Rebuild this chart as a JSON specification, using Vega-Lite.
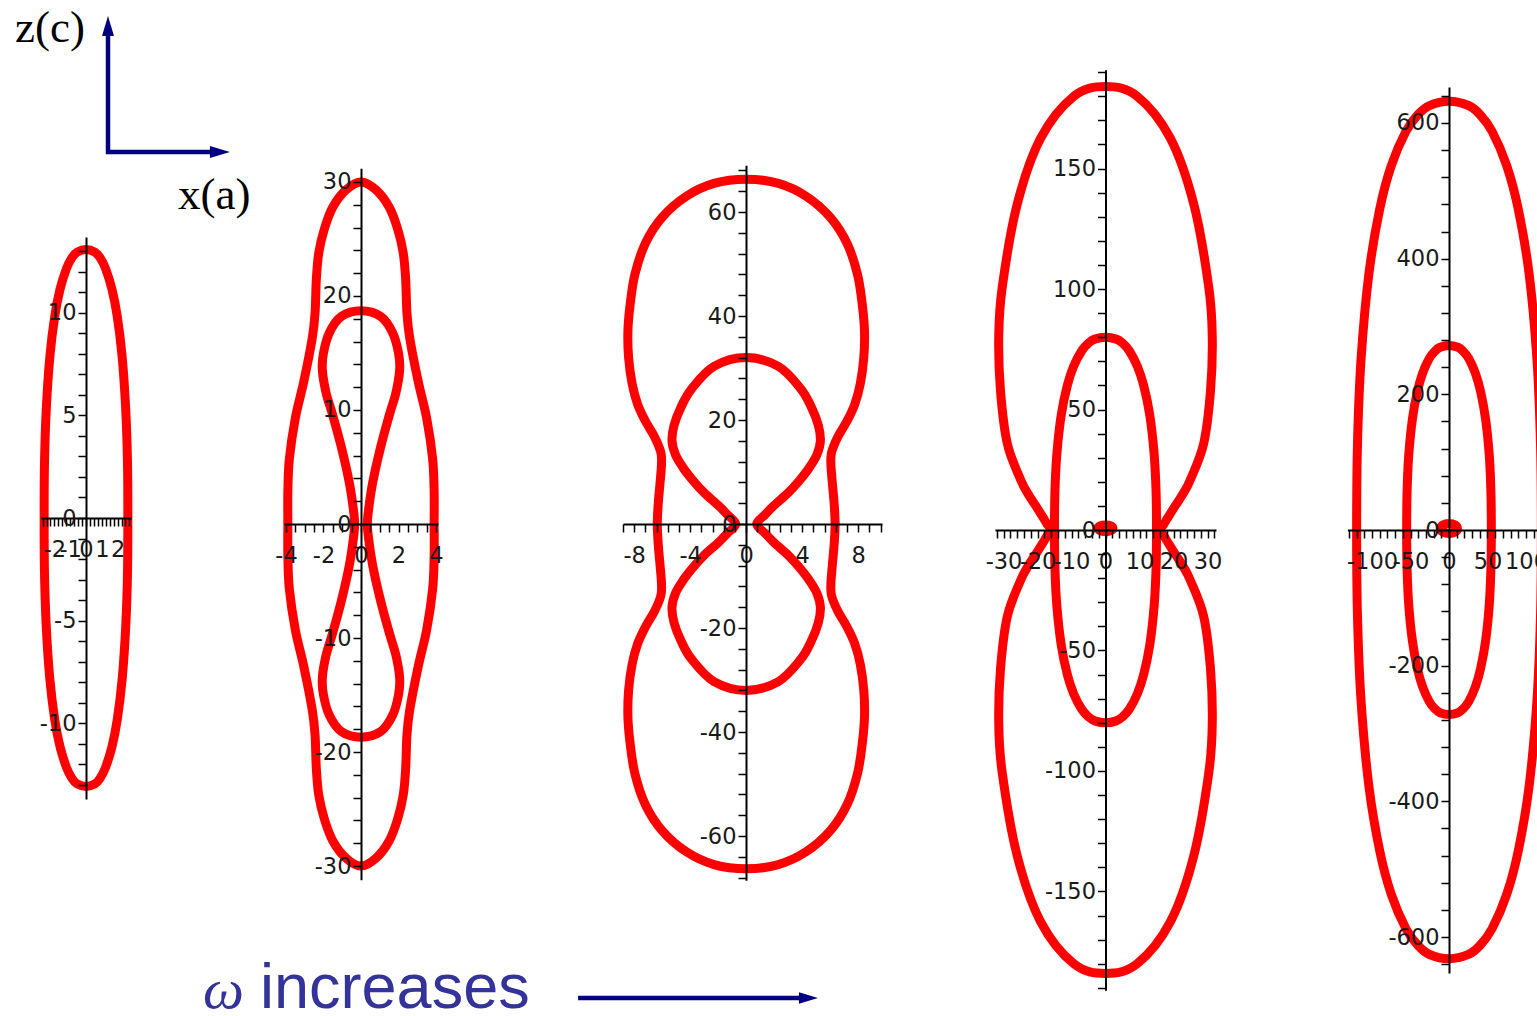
{
  "$schema": "https://vega.github.io/schema/vega-lite/v6.json",
  "width": 1537,
  "height": 1016,
  "autosize": {"type": "none"},
  "padding": 0,
  "background": "#ffffff",
  "config": {
    "view": {"stroke": null},
    "axis": {
      "grid": false,
      "domainColor": "#000000",
      "domainWidth": 2,
      "tickColor": "#000000",
      "tickWidth": 1.5,
      "tickSize": 8,
      "labelFont": "DejaVu Sans",
      "labelFontSize": 22.5,
      "labelColor": "#1a1a1a",
      "labelOverlap": false,
      "labelFlush": false,
      "labelBound": false
    },
    "axisX": {"labelPadding": 12},
    "axisY": {"labelPadding": 2}
  },
  "resolve": {"scale": {"x": "independent", "y": "independent", "shape": "independent", "size": "independent"}},
  "layer": [
    {
      "data": {"values": [
        {"c":"a","x":2.65,"z":0},{"c":"a","x":2.63,"z":2.62},{"c":"a","x":2.52,"z":5.24},{"c":"a","x":2.29,"z":7.86},{"c":"a","x":1.98,"z":9.83},{"c":"a","x":1.65,"z":11.14},{"c":"a","x":1.23,"z":12.18},{"c":"a","x":0.88,"z":12.71},{"c":"a","x":0.56,"z":12.97},{"c":"a","x":0,"z":13.1},
        {"c":"a","x":-0.56,"z":12.97},{"c":"a","x":-0.88,"z":12.71},{"c":"a","x":-1.23,"z":12.18},{"c":"a","x":-1.65,"z":11.14},{"c":"a","x":-1.98,"z":9.83},{"c":"a","x":-2.29,"z":7.86},{"c":"a","x":-2.52,"z":5.24},{"c":"a","x":-2.63,"z":2.62},{"c":"a","x":-2.65,"z":0},
        {"c":"a","x":-2.63,"z":-2.62},{"c":"a","x":-2.52,"z":-5.24},{"c":"a","x":-2.29,"z":-7.86},{"c":"a","x":-1.98,"z":-9.83},{"c":"a","x":-1.65,"z":-11.14},{"c":"a","x":-1.23,"z":-12.18},{"c":"a","x":-0.88,"z":-12.71},{"c":"a","x":-0.56,"z":-12.97},{"c":"a","x":0,"z":-13.1},
        {"c":"a","x":0.56,"z":-12.97},{"c":"a","x":0.88,"z":-12.71},{"c":"a","x":1.23,"z":-12.18},{"c":"a","x":1.65,"z":-11.14},{"c":"a","x":1.98,"z":-9.83},{"c":"a","x":2.29,"z":-7.86},{"c":"a","x":2.52,"z":-5.24},{"c":"a","x":2.63,"z":-2.62}
      ]},
      "mark": {"type": "line", "interpolate": "cardinal-closed", "stroke": "#ff0000", "strokeWidth": 9, "strokeJoin": "round"},
      "encoding": {
        "x": {"field": "x", "type": "quantitative",
          "scale": {"domain": [-2.85, 2.85], "range": [41, 131], "zero": false, "nice": false},
          "axis": {"orient": "bottom", "offset": -498, "title": null, "zindex": 1,
            "values": [-2.75,-2.5,-2.25,-2,-1.75,-1.5,-1.25,-1,-0.75,-0.5,-0.25,0,0.25,0.5,0.75,1,1.25,1.5,1.75,2,2.25,2.5,2.75],
            "labelExpr": "datum.value % 1 === 0 ? '' + datum.value : ''"}},
        "y": {"field": "z", "type": "quantitative",
          "scale": {"domain": [-13.7, 13.7], "range": [798.9, 237.1], "zero": false, "nice": false},
          "axis": {"orient": "left", "offset": -86, "title": null, "zindex": 1,
            "values": [-13,-12,-11,-10,-9,-8,-7,-6,-5,-4,-3,-2,-1,0,1,2,3,4,5,6,7,8,9,10,11,12,13],
            "labelExpr": "datum.value % 5 === 0 ? '' + datum.value : ''"}},
        "detail": {"field": "c"},
        "order": {"value": null}
      }
    },
    {
      "data": {"values": [
        {"c":"o","x":3.9,"z":0},{"c":"o","x":3.9,"z":2.8},{"c":"o","x":3.82,"z":5.7},{"c":"o","x":3.5,"z":9.3},{"c":"o","x":3.05,"z":12.5},{"c":"o","x":2.6,"z":16.3},{"c":"o","x":2.45,"z":18.5},{"c":"o","x":2.38,"z":21.5},{"c":"o","x":2.25,"z":23.8},{"c":"o","x":1.95,"z":25.9},{"c":"o","x":1.5,"z":27.8},{"c":"o","x":0.8,"z":29.3},{"c":"o","x":0,"z":30},
        {"c":"o","x":-0.8,"z":29.3},{"c":"o","x":-1.5,"z":27.8},{"c":"o","x":-1.95,"z":25.9},{"c":"o","x":-2.25,"z":23.8},{"c":"o","x":-2.38,"z":21.5},{"c":"o","x":-2.45,"z":18.5},{"c":"o","x":-2.6,"z":16.3},{"c":"o","x":-3.05,"z":12.5},{"c":"o","x":-3.5,"z":9.3},{"c":"o","x":-3.82,"z":5.7},{"c":"o","x":-3.9,"z":2.8},{"c":"o","x":-3.9,"z":0},
        {"c":"o","x":-3.9,"z":-2.8},{"c":"o","x":-3.82,"z":-5.7},{"c":"o","x":-3.5,"z":-9.3},{"c":"o","x":-3.05,"z":-12.5},{"c":"o","x":-2.6,"z":-16.3},{"c":"o","x":-2.45,"z":-18.5},{"c":"o","x":-2.38,"z":-21.5},{"c":"o","x":-2.25,"z":-23.8},{"c":"o","x":-1.95,"z":-25.9},{"c":"o","x":-1.5,"z":-27.8},{"c":"o","x":-0.8,"z":-29.3},{"c":"o","x":0,"z":-30},
        {"c":"o","x":0.8,"z":-29.3},{"c":"o","x":1.5,"z":-27.8},{"c":"o","x":1.95,"z":-25.9},{"c":"o","x":2.25,"z":-23.8},{"c":"o","x":2.38,"z":-21.5},{"c":"o","x":2.45,"z":-18.5},{"c":"o","x":2.6,"z":-16.3},{"c":"o","x":3.05,"z":-12.5},{"c":"o","x":3.5,"z":-9.3},{"c":"o","x":3.82,"z":-5.7},{"c":"o","x":3.9,"z":-2.8},
        {"c":"i","x":0.34,"z":0},{"c":"i","x":0.4,"z":1.2},{"c":"i","x":0.62,"z":3.6},{"c":"i","x":1.04,"z":6.7},{"c":"i","x":1.5,"z":9.5},{"c":"i","x":1.86,"z":11.5},{"c":"i","x":2.06,"z":13.5},{"c":"i","x":2,"z":15},{"c":"i","x":1.68,"z":16.8},{"c":"i","x":1.05,"z":18.2},{"c":"i","x":0,"z":18.7},
        {"c":"i","x":-1.05,"z":18.2},{"c":"i","x":-1.68,"z":16.8},{"c":"i","x":-2,"z":15},{"c":"i","x":-2.06,"z":13.5},{"c":"i","x":-1.86,"z":11.5},{"c":"i","x":-1.5,"z":9.5},{"c":"i","x":-1.04,"z":6.7},{"c":"i","x":-0.62,"z":3.6},{"c":"i","x":-0.4,"z":1.2},{"c":"i","x":-0.34,"z":0},
        {"c":"i","x":-0.4,"z":-1.2},{"c":"i","x":-0.62,"z":-3.6},{"c":"i","x":-1.04,"z":-6.7},{"c":"i","x":-1.5,"z":-9.5},{"c":"i","x":-1.86,"z":-11.5},{"c":"i","x":-2.06,"z":-13.5},{"c":"i","x":-2,"z":-15},{"c":"i","x":-1.68,"z":-16.8},{"c":"i","x":-1.05,"z":-18.2},{"c":"i","x":0,"z":-18.7},
        {"c":"i","x":1.05,"z":-18.2},{"c":"i","x":1.68,"z":-16.8},{"c":"i","x":2,"z":-15},{"c":"i","x":2.06,"z":-13.5},{"c":"i","x":1.86,"z":-11.5},{"c":"i","x":1.5,"z":-9.5},{"c":"i","x":1.04,"z":-6.7},{"c":"i","x":0.62,"z":-3.6},{"c":"i","x":0.4,"z":-1.2}
      ]},
      "mark": {"type": "line", "interpolate": "cardinal-closed", "stroke": "#ff0000", "strokeWidth": 9, "strokeJoin": "round"},
      "encoding": {
        "x": {"field": "x", "type": "quantitative",
          "scale": {"domain": [-4.1, 4.1], "range": [284.1, 437.9], "zero": false, "nice": false},
          "axis": {"orient": "bottom", "offset": -492, "title": null, "zindex": 1,
            "values": [-4,-3.5,-3,-2.5,-2,-1.5,-1,-0.5,0,0.5,1,1.5,2,2.5,3,3.5,4],
            "labelExpr": "datum.value % 2 === 0 ? '' + datum.value : ''"}},
        "y": {"field": "z", "type": "quantitative",
          "scale": {"domain": [-31.2, 31.2], "range": [879.7, 168.3], "zero": false, "nice": false},
          "axis": {"orient": "left", "offset": -361, "title": null, "zindex": 1,
            "values": [-30,-28,-26,-24,-22,-20,-18,-16,-14,-12,-10,-8,-6,-4,-2,0,2,4,6,8,10,12,14,16,18,20,22,24,26,28,30],
            "labelExpr": "datum.value % 10 === 0 ? '' + datum.value : ''"}},
        "detail": {"field": "c"},
        "order": {"value": null}
      }
    },
    {
      "data": {"values": [
        {"c":"o","x":6.35,"z":0},{"c":"o","x":6.28,"z":4},{"c":"o","x":6.15,"z":8},{"c":"o","x":6.05,"z":11.5},{"c":"o","x":6.1,"z":13.8},{"c":"o","x":6.55,"z":16.8},{"c":"o","x":7.2,"z":19.8},{"c":"o","x":7.75,"z":23},{"c":"o","x":8.15,"z":27},{"c":"o","x":8.4,"z":32},{"c":"o","x":8.45,"z":37},{"c":"o","x":8.3,"z":42},{"c":"o","x":7.95,"z":48},{"c":"o","x":7.2,"z":54},{"c":"o","x":6,"z":59},{"c":"o","x":4.3,"z":63},{"c":"o","x":2.3,"z":65.5},{"c":"o","x":0,"z":66.3},
        {"c":"o","x":-2.3,"z":65.5},{"c":"o","x":-4.3,"z":63},{"c":"o","x":-6,"z":59},{"c":"o","x":-7.2,"z":54},{"c":"o","x":-7.95,"z":48},{"c":"o","x":-8.3,"z":42},{"c":"o","x":-8.45,"z":37},{"c":"o","x":-8.4,"z":32},{"c":"o","x":-8.15,"z":27},{"c":"o","x":-7.75,"z":23},{"c":"o","x":-7.2,"z":19.8},{"c":"o","x":-6.55,"z":16.8},{"c":"o","x":-6.1,"z":13.8},{"c":"o","x":-6.05,"z":11.5},{"c":"o","x":-6.15,"z":8},{"c":"o","x":-6.28,"z":4},{"c":"o","x":-6.35,"z":0},
        {"c":"o","x":-6.28,"z":-4},{"c":"o","x":-6.15,"z":-8},{"c":"o","x":-6.05,"z":-11.5},{"c":"o","x":-6.1,"z":-13.8},{"c":"o","x":-6.55,"z":-16.8},{"c":"o","x":-7.2,"z":-19.8},{"c":"o","x":-7.75,"z":-23},{"c":"o","x":-8.15,"z":-27},{"c":"o","x":-8.4,"z":-32},{"c":"o","x":-8.45,"z":-37},{"c":"o","x":-8.3,"z":-42},{"c":"o","x":-7.95,"z":-48},{"c":"o","x":-7.2,"z":-54},{"c":"o","x":-6,"z":-59},{"c":"o","x":-4.3,"z":-63},{"c":"o","x":-2.3,"z":-65.5},{"c":"o","x":0,"z":-66.3},
        {"c":"o","x":2.3,"z":-65.5},{"c":"o","x":4.3,"z":-63},{"c":"o","x":6,"z":-59},{"c":"o","x":7.2,"z":-54},{"c":"o","x":7.95,"z":-48},{"c":"o","x":8.3,"z":-42},{"c":"o","x":8.45,"z":-37},{"c":"o","x":8.4,"z":-32},{"c":"o","x":8.15,"z":-27},{"c":"o","x":7.75,"z":-23},{"c":"o","x":7.2,"z":-19.8},{"c":"o","x":6.55,"z":-16.8},{"c":"o","x":6.1,"z":-13.8},{"c":"o","x":6.05,"z":-11.5},{"c":"o","x":6.15,"z":-8},{"c":"o","x":6.28,"z":-4},
        {"c":"i","x":0.75,"z":0},{"c":"i","x":1.35,"z":1.8},{"c":"i","x":2,"z":3.6},{"c":"i","x":3,"z":6},{"c":"i","x":3.75,"z":8.2},{"c":"i","x":4.5,"z":10.8},{"c":"i","x":5.05,"z":13.3},{"c":"i","x":5.3,"z":16},{"c":"i","x":5.15,"z":19},{"c":"i","x":4.65,"z":22.5},{"c":"i","x":3.9,"z":26},{"c":"i","x":2.3,"z":30.3},{"c":"i","x":0,"z":32},
        {"c":"i","x":-2.3,"z":30.3},{"c":"i","x":-3.9,"z":26},{"c":"i","x":-4.65,"z":22.5},{"c":"i","x":-5.15,"z":19},{"c":"i","x":-5.3,"z":16},{"c":"i","x":-5.05,"z":13.3},{"c":"i","x":-4.5,"z":10.8},{"c":"i","x":-3.75,"z":8.2},{"c":"i","x":-3,"z":6},{"c":"i","x":-2,"z":3.6},{"c":"i","x":-1.35,"z":1.8},{"c":"i","x":-0.75,"z":0},
        {"c":"i","x":-1.35,"z":-1.8},{"c":"i","x":-2,"z":-3.6},{"c":"i","x":-3,"z":-6},{"c":"i","x":-3.75,"z":-8.2},{"c":"i","x":-4.5,"z":-10.8},{"c":"i","x":-5.05,"z":-13.3},{"c":"i","x":-5.3,"z":-16},{"c":"i","x":-5.15,"z":-19},{"c":"i","x":-4.65,"z":-22.5},{"c":"i","x":-3.9,"z":-26},{"c":"i","x":-2.3,"z":-30.3},{"c":"i","x":0,"z":-32},
        {"c":"i","x":2.3,"z":-30.3},{"c":"i","x":3.9,"z":-26},{"c":"i","x":4.65,"z":-22.5},{"c":"i","x":5.15,"z":-19},{"c":"i","x":5.3,"z":-16},{"c":"i","x":5.05,"z":-13.3},{"c":"i","x":4.5,"z":-10.8},{"c":"i","x":3.75,"z":-8.2},{"c":"i","x":3,"z":-6},{"c":"i","x":2,"z":-3.6},{"c":"i","x":1.35,"z":-1.8}
      ]},
      "mark": {"type": "line", "interpolate": "cardinal-closed", "stroke": "#ff0000", "strokeWidth": 9, "strokeJoin": "round"},
      "encoding": {
        "x": {"field": "x", "type": "quantitative",
          "scale": {"domain": [-8.8, 9.7], "range": [623, 882], "zero": false, "nice": false},
          "axis": {"orient": "bottom", "offset": -492, "title": null, "zindex": 1,
            "values": [-8.8,-8,-7.2,-6.4,-5.6,-4.8,-4,-3.2,-2.4,-1.6,-0.8,0,0.8,1.6,2.4,3.2,4,4.8,5.6,6.4,7.2,8,8.8,9.6],
            "labelExpr": "datum.value % 4 === 0 ? '' + datum.value : ''"}},
        "y": {"field": "z", "type": "quantitative",
          "scale": {"domain": [-68.5, 69], "range": [880.2, 165.2], "zero": false, "nice": false},
          "axis": {"orient": "left", "offset": -746, "title": null, "zindex": 1,
            "values": [-68,-64,-60,-56,-52,-48,-44,-40,-36,-32,-28,-24,-20,-16,-12,-8,-4,0,4,8,12,16,20,24,28,32,36,40,44,48,52,56,60,64,68],
            "labelExpr": "datum.value % 20 === 0 ? '' + datum.value : ''"}},
        "detail": {"field": "c"},
        "order": {"value": null}
      }
    },
    {
      "data": {"values": [
        {"c":"o","x":16,"z":0},{"c":"o","x":17.2,"z":2.5},{"c":"o","x":18.5,"z":5.5},{"c":"o","x":20.5,"z":10},{"c":"o","x":22.8,"z":15},{"c":"o","x":25,"z":21},{"c":"o","x":28.9,"z":36},{"c":"o","x":30.9,"z":58},{"c":"o","x":31.4,"z":80},{"c":"o","x":30.4,"z":100.5},{"c":"o","x":26,"z":135},{"c":"o","x":19.1,"z":162.5},{"c":"o","x":9.3,"z":180},{"c":"o","x":0,"z":184},
        {"c":"o","x":-9.3,"z":180},{"c":"o","x":-19.1,"z":162.5},{"c":"o","x":-26,"z":135},{"c":"o","x":-30.4,"z":100.5},{"c":"o","x":-31.4,"z":80},{"c":"o","x":-30.9,"z":58},{"c":"o","x":-28.9,"z":36},{"c":"o","x":-25,"z":21},{"c":"o","x":-22.8,"z":15},{"c":"o","x":-20.5,"z":10},{"c":"o","x":-18.5,"z":5.5},{"c":"o","x":-17.2,"z":2.5},{"c":"o","x":-16,"z":0},
        {"c":"o","x":-17.2,"z":-2.5},{"c":"o","x":-18.5,"z":-5.5},{"c":"o","x":-20.5,"z":-10},{"c":"o","x":-22.8,"z":-15},{"c":"o","x":-25,"z":-21},{"c":"o","x":-28.9,"z":-36},{"c":"o","x":-30.9,"z":-58},{"c":"o","x":-31.4,"z":-80},{"c":"o","x":-30.4,"z":-100.5},{"c":"o","x":-26,"z":-135},{"c":"o","x":-19.1,"z":-162.5},{"c":"o","x":-9.3,"z":-180},{"c":"o","x":0,"z":-184},
        {"c":"o","x":9.3,"z":-180},{"c":"o","x":19.1,"z":-162.5},{"c":"o","x":26,"z":-135},{"c":"o","x":30.4,"z":-100.5},{"c":"o","x":31.4,"z":-80},{"c":"o","x":30.9,"z":-58},{"c":"o","x":28.9,"z":-36},{"c":"o","x":25,"z":-21},{"c":"o","x":22.8,"z":-15},{"c":"o","x":20.5,"z":-10},{"c":"o","x":18.5,"z":-5.5},{"c":"o","x":17.2,"z":-2.5},
        {"c":"i","x":15,"z":0},{"c":"i","x":14.87,"z":16},{"c":"i","x":14.28,"z":32},{"c":"i","x":12.99,"z":48},{"c":"i","x":11.22,"z":60},{"c":"i","x":9.36,"z":68},{"c":"i","x":6.99,"z":74.4},{"c":"i","x":4.97,"z":77.6},{"c":"i","x":3.17,"z":79.2},{"c":"i","x":0,"z":80},
        {"c":"i","x":-3.17,"z":79.2},{"c":"i","x":-4.97,"z":77.6},{"c":"i","x":-6.99,"z":74.4},{"c":"i","x":-9.36,"z":68},{"c":"i","x":-11.22,"z":60},{"c":"i","x":-12.99,"z":48},{"c":"i","x":-14.28,"z":32},{"c":"i","x":-14.87,"z":16},{"c":"i","x":-15,"z":0},
        {"c":"i","x":-14.87,"z":-16},{"c":"i","x":-14.28,"z":-32},{"c":"i","x":-12.99,"z":-48},{"c":"i","x":-11.22,"z":-60},{"c":"i","x":-9.36,"z":-68},{"c":"i","x":-6.99,"z":-74.4},{"c":"i","x":-4.97,"z":-77.6},{"c":"i","x":-3.17,"z":-79.2},{"c":"i","x":0,"z":-80},
        {"c":"i","x":3.17,"z":-79.2},{"c":"i","x":4.97,"z":-77.6},{"c":"i","x":6.99,"z":-74.4},{"c":"i","x":9.36,"z":-68},{"c":"i","x":11.22,"z":-60},{"c":"i","x":12.99,"z":-48},{"c":"i","x":14.28,"z":-32},{"c":"i","x":14.87,"z":-16},
        {"c":"d","x":2.2,"z":0.7},{"c":"d","x":1.6,"z":1.7},{"c":"d","x":0,"z":2.1},{"c":"d","x":-1.6,"z":1.7},{"c":"d","x":-2.2,"z":0.7},{"c":"d","x":-1.6,"z":-0.3},{"c":"d","x":0,"z":-0.7},{"c":"d","x":1.6,"z":-0.3}
      ]},
      "mark": {"type": "line", "interpolate": "cardinal-closed", "stroke": "#ff0000", "strokeWidth": 9, "strokeJoin": "round"},
      "encoding": {
        "x": {"field": "x", "type": "quantitative",
          "scale": {"domain": [-32.5, 32.5], "range": [995, 1216], "zero": false, "nice": false},
          "axis": {"orient": "bottom", "offset": -486, "title": null, "zindex": 1,
            "values": [-32,-30,-28,-26,-24,-22,-20,-18,-16,-14,-12,-10,-8,-6,-4,-2,0,2,4,6,8,10,12,14,16,18,20,22,24,26,28,30,32],
            "labelExpr": "datum.value % 10 === 0 ? '' + datum.value : ''"}},
        "y": {"field": "z", "type": "quantitative",
          "scale": {"domain": [-191, 191], "range": [990.3, 69.7], "zero": false, "nice": false},
          "axis": {"orient": "left", "offset": -1105.5, "title": null, "zindex": 1,
            "values": [-190,-180,-170,-160,-150,-140,-130,-120,-110,-100,-90,-80,-70,-60,-50,-40,-30,-20,-10,0,10,20,30,40,50,60,70,80,90,100,110,120,130,140,150,160,170,180,190],
            "labelExpr": "datum.value % 50 === 0 ? '' + datum.value : ''"}},
        "detail": {"field": "c"},
        "order": {"value": null}
      }
    },
    {
      "data": {"values": [
        {"c":"o","x":120,"z":0},{"c":"o","x":118.9,"z":126.4},{"c":"o","x":114.2,"z":252.8},{"c":"o","x":103.9,"z":379.2},{"c":"o","x":89.8,"z":474},{"c":"o","x":74.9,"z":537.2},{"c":"o","x":55.9,"z":587.8},{"c":"o","x":39.7,"z":613},{"c":"o","x":25.3,"z":625.7},{"c":"o","x":0,"z":632},
        {"c":"o","x":-25.3,"z":625.7},{"c":"o","x":-39.7,"z":613},{"c":"o","x":-55.9,"z":587.8},{"c":"o","x":-74.9,"z":537.2},{"c":"o","x":-89.8,"z":474},{"c":"o","x":-103.9,"z":379.2},{"c":"o","x":-114.2,"z":252.8},{"c":"o","x":-118.9,"z":126.4},{"c":"o","x":-120,"z":0},
        {"c":"o","x":-118.9,"z":-126.4},{"c":"o","x":-114.2,"z":-252.8},{"c":"o","x":-103.9,"z":-379.2},{"c":"o","x":-89.8,"z":-474},{"c":"o","x":-74.9,"z":-537.2},{"c":"o","x":-55.9,"z":-587.8},{"c":"o","x":-39.7,"z":-613},{"c":"o","x":-25.3,"z":-625.7},{"c":"o","x":0,"z":-632},
        {"c":"o","x":25.3,"z":-625.7},{"c":"o","x":39.7,"z":-613},{"c":"o","x":55.9,"z":-587.8},{"c":"o","x":74.9,"z":-537.2},{"c":"o","x":89.8,"z":-474},{"c":"o","x":103.9,"z":-379.2},{"c":"o","x":114.2,"z":-252.8},{"c":"o","x":118.9,"z":-126.4},
        {"c":"i","x":55,"z":0},{"c":"i","x":54.5,"z":54.4},{"c":"i","x":52.4,"z":108.8},{"c":"i","x":47.6,"z":163.2},{"c":"i","x":41.1,"z":204},{"c":"i","x":34.3,"z":231.2},{"c":"i","x":25.6,"z":253},{"c":"i","x":18.2,"z":263.8},{"c":"i","x":11.6,"z":269.3},{"c":"i","x":0,"z":272},
        {"c":"i","x":-11.6,"z":269.3},{"c":"i","x":-18.2,"z":263.8},{"c":"i","x":-25.6,"z":253},{"c":"i","x":-34.3,"z":231.2},{"c":"i","x":-41.1,"z":204},{"c":"i","x":-47.6,"z":163.2},{"c":"i","x":-52.4,"z":108.8},{"c":"i","x":-54.5,"z":54.4},{"c":"i","x":-55,"z":0},
        {"c":"i","x":-54.5,"z":-54.4},{"c":"i","x":-52.4,"z":-108.8},{"c":"i","x":-47.6,"z":-163.2},{"c":"i","x":-41.1,"z":-204},{"c":"i","x":-34.3,"z":-231.2},{"c":"i","x":-25.6,"z":-253},{"c":"i","x":-18.2,"z":-263.8},{"c":"i","x":-11.6,"z":-269.3},{"c":"i","x":0,"z":-272},
        {"c":"i","x":11.6,"z":-269.3},{"c":"i","x":18.2,"z":-263.8},{"c":"i","x":25.6,"z":-253},{"c":"i","x":34.3,"z":-231.2},{"c":"i","x":41.1,"z":-204},{"c":"i","x":47.6,"z":-163.2},{"c":"i","x":52.4,"z":-108.8},{"c":"i","x":54.5,"z":-54.4},
        {"c":"d","x":11,"z":2},{"c":"d","x":7.8,"z":7.5},{"c":"d","x":0,"z":9.5},{"c":"d","x":-7.8,"z":7.5},{"c":"d","x":-11,"z":2},{"c":"d","x":-7.8,"z":-3},{"c":"d","x":0,"z":-5},{"c":"d","x":7.8,"z":-3}
      ]},
      "mark": {"type": "line", "interpolate": "cardinal-closed", "stroke": "#ff0000", "strokeWidth": 9, "strokeJoin": "round"},
      "encoding": {
        "x": {"field": "x", "type": "quantitative",
          "scale": {"domain": [-132, 132], "range": [1347.4, 1550.6], "zero": false, "nice": false},
          "axis": {"orient": "bottom", "offset": -486, "title": null, "zindex": 1,
            "values": [-130,-120,-110,-100,-90,-80,-70,-60,-50,-40,-30,-20,-10,0,10,20,30,40,50,60,70,80,90,100,110,120,130],
            "labelExpr": "datum.value % 50 === 0 ? '' + datum.value : ''"}},
        "y": {"field": "z", "type": "quantitative",
          "scale": {"domain": [-653, 653], "range": [973, 87], "zero": false, "nice": false},
          "axis": {"orient": "left", "offset": -1449, "title": null, "zindex": 1,
            "values": [-640,-600,-560,-520,-480,-440,-400,-360,-320,-280,-240,-200,-160,-120,-80,-40,0,40,80,120,160,200,240,280,320,360,400,440,480,520,560,600,640],
            "labelExpr": "datum.value % 200 === 0 ? '' + datum.value : ''"}},
        "detail": {"field": "c"},
        "order": {"value": null}
      }
    },
    {
      "data": {"values": [
        {"a":"corner","px":7.027,"py":2.76},{"a":"corner","px":7.027,"py":14.96},{"a":"corner","px":14.05,"py":14.96},
        {"a":"omega","px":37.61,"py":98.23},{"a":"omega","px":52.37,"py":98.23}
      ]},
      "mark": {"type": "line", "stroke": "#000080", "strokeWidth": 4.5, "strokeJoin": "miter", "strokeCap": "butt"},
      "encoding": {
        "x": {"field": "px", "type": "quantitative", "scale": {"domain": [0, 100], "range": [0, 1537], "zero": false, "nice": false}, "axis": null},
        "y": {"field": "py", "type": "quantitative", "scale": {"domain": [0, 100], "range": [0, 1016], "zero": false, "nice": false}, "axis": null},
        "detail": {"field": "a"},
        "order": {"value": null}
      }
    },
    {
      "data": {"values": [
        {"dir":"up","s":400,"px":7.027,"py":2.56},
        {"dir":"right","s":400,"px":14.31,"py":14.96},
        {"dir":"right","s":361,"px":52.6,"py":98.23}
      ]},
      "mark": {"type": "point", "filled": true, "fill": "#000080", "stroke": null, "opacity": 1},
      "encoding": {
        "x": {"field": "px", "type": "quantitative", "scale": {"domain": [0, 100], "range": [0, 1537], "zero": false, "nice": false}, "axis": null},
        "y": {"field": "py", "type": "quantitative", "scale": {"domain": [0, 100], "range": [0, 1016], "zero": false, "nice": false}, "axis": null},
        "shape": {"field": "dir", "type": "nominal", "legend": null,
          "scale": {"domain": ["up", "right"], "range": ["M0,-1L0.6,1L-0.6,1Z", "M1,0L-1,-0.6L-1,0.6Z"]}},
        "size": {"field": "s", "type": "quantitative", "scale": null, "legend": null}
      }
    },
    {
      "data": {"values": [
        {"t":"z(c)","px":0.976,"py":4.134},
        {"t":"x(a)","px":11.58,"py":20.57}
      ]},
      "mark": {"type": "text", "font": "Liberation Serif", "fontSize": 45, "fill": "#000000", "align": "left", "baseline": "alphabetic"},
      "encoding": {
        "x": {"field": "px", "type": "quantitative", "scale": {"domain": [0, 100], "range": [0, 1537], "zero": false, "nice": false}, "axis": null},
        "y": {"field": "py", "type": "quantitative", "scale": {"domain": [0, 100], "range": [0, 1016], "zero": false, "nice": false}, "axis": null},
        "text": {"field": "t"}
      }
    },
    {
      "data": {"values": [{"t":"ω","px":13.21,"py":99.2}]},
      "mark": {"type": "text", "font": "Liberation Serif", "fontStyle": "italic", "fontSize": 58, "fill": "#333399", "align": "left", "baseline": "alphabetic"},
      "encoding": {
        "x": {"field": "px", "type": "quantitative", "scale": {"domain": [0, 100], "range": [0, 1537], "zero": false, "nice": false}, "axis": null},
        "y": {"field": "py", "type": "quantitative", "scale": {"domain": [0, 100], "range": [0, 1016], "zero": false, "nice": false}, "axis": null},
        "text": {"field": "t"}
      }
    },
    {
      "data": {"values": [{"t":"increases","px":16.92,"py":99.2}]},
      "mark": {"type": "text", "font": "Liberation Sans", "fontSize": 63, "fill": "#333399", "align": "left", "baseline": "alphabetic"},
      "encoding": {
        "x": {"field": "px", "type": "quantitative", "scale": {"domain": [0, 100], "range": [0, 1537], "zero": false, "nice": false}, "axis": null},
        "y": {"field": "py", "type": "quantitative", "scale": {"domain": [0, 100], "range": [0, 1016], "zero": false, "nice": false}, "axis": null},
        "text": {"field": "t"}
      }
    }
  ]
}
